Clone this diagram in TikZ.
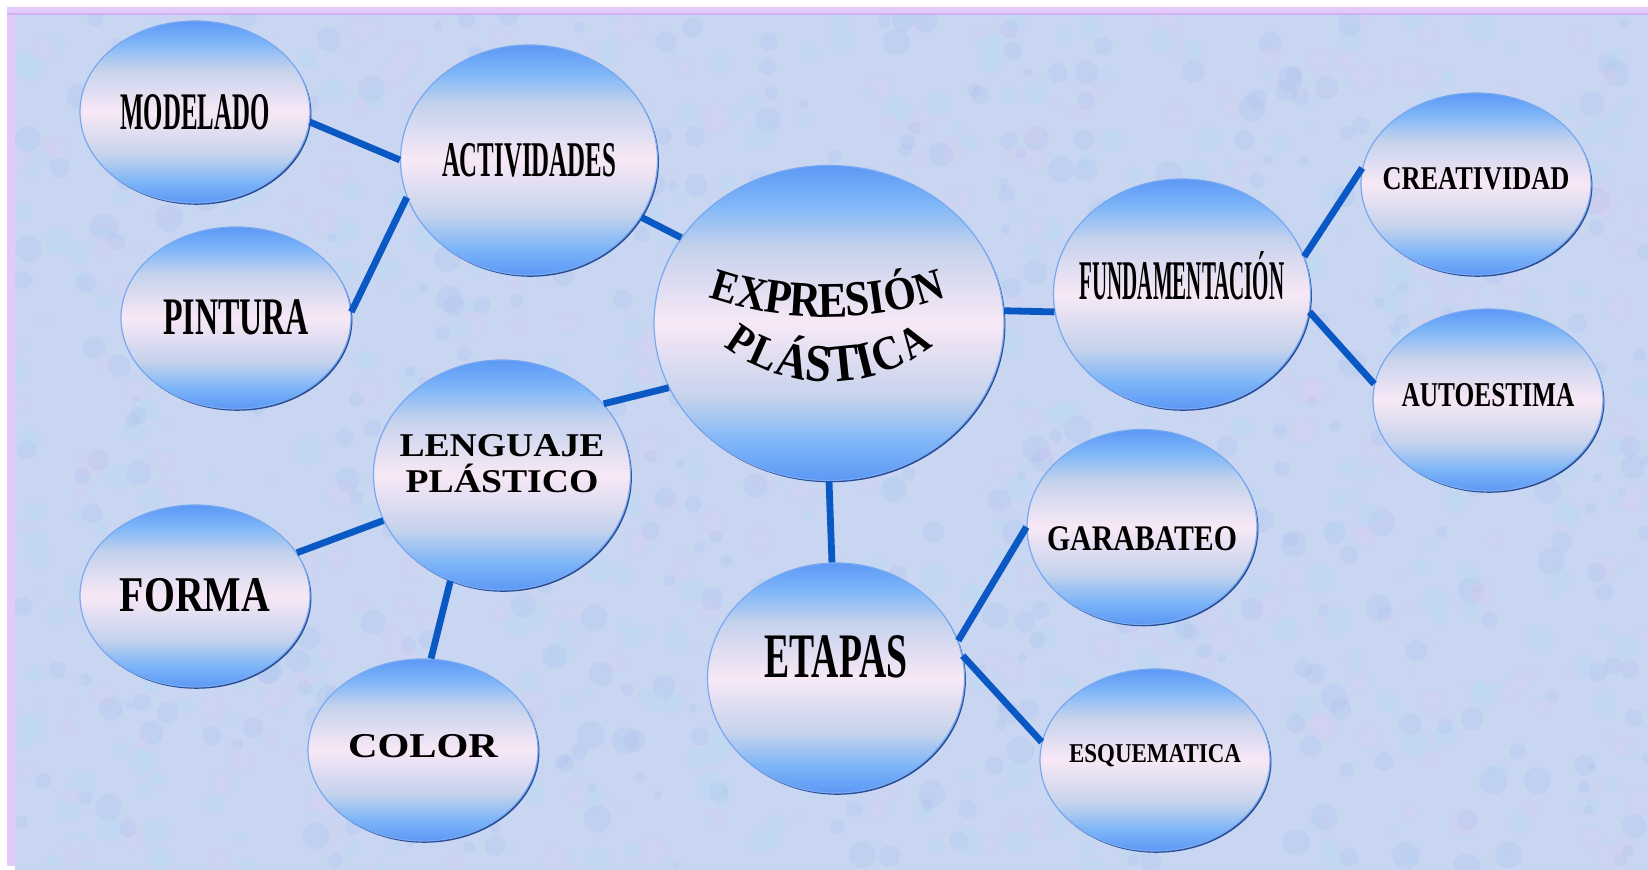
\documentclass[tikz,border=0pt]{standalone}
\usepackage{fontspec}
\setmainfont{Liberation Serif}
\usepackage{graphicx}
\usetikzlibrary{shapes.geometric,shadows}

\definecolor{bubblue}{RGB}{92,152,246}
\definecolor{bubsky}{RGB}{126,182,248}
\definecolor{bubgrey}{RGB}{196,210,236}
\definecolor{bubpink}{RGB}{248,232,246}
\definecolor{bubedge}{RGB}{120,168,240}
\definecolor{bubshadow}{RGB}{40,76,148}
\definecolor{linkblue}{RGB}{10,88,196}
\definecolor{paper}{RGB}{200,214,242}
\definecolor{framelav}{RGB}{228,202,248}
\definecolor{framedark}{RGB}{208,176,240}
\definecolor{blob0}{RGB}{226,206,244}
\definecolor{blob1}{RGB}{176,220,246}
\definecolor{blob2}{RGB}{168,188,236}

\pgfdeclareverticalshading{bubble}{100bp}{color(0bp)=(bubblue); color(25bp)=(bubblue);
  color(31bp)=(bubsky); color(38bp)=(bubgrey); color(50bp)=(bubpink); color(62bp)=(bubgrey);
  color(69bp)=(bubsky); color(75bp)=(bubblue); color(100bp)=(bubblue)}

% width (pt), font size (pt), text, baseline offset (pt)
\newcommand{\bubtext}[4]{\makebox[0pt]{\raisebox{#4pt}[0pt][0pt]{\resizebox{#1pt}{\height}{\fontsize{#2}{#2}\selectfont #3}}}}
% one letter of the arched title
\newcommand{\archletter}[2]{\fontsize{#1}{#1}\selectfont\scalebox{0.88}[1]{#2}}

\begin{document}
\begin{tikzpicture}[
    x=0.5pt, y=0.5pt,
    bubble/.style={ellipse, draw=bubedge, line width=0.6pt, shade, shading=bubble, inner sep=0pt, font=\bfseries,
        drop shadow={shadow xshift=0.7pt, shadow yshift=-0.9pt, fill=bubshadow, opacity=1}},
    small/.style={minimum width=115pt, minimum height=91pt},
    big/.style={minimum width=128.5pt, minimum height=115pt},
    arch/.style={anchor=base, inner sep=0pt, font=\bfseries},
    link/.style={draw=linkblue, line width=3.4pt}
]
    \useasboundingbox (0,0) rectangle (1648,-870);

    % background
    \fill[white] (0,0) rectangle (1648,-870);
    \fill[framelav] (7,-7) rectangle (1648,-866);
    \draw[framedark, line width=1pt] (7,-14) -- (1648,-14);
    \fill[paper] (15,-15) rectangle (1648,-870);
    \begin{scope}
        \clip (15,-15) rectangle (1648,-870);
        \pgfmathsetseed{42}
        \foreach \k in {1,...,1400} {
            \pgfmathsetmacro{\bx}{15+1633*rnd}
            \pgfmathsetmacro{\by}{-15-855*rnd}
            \pgfmathsetmacro{\br}{4+10*rnd}
            \pgfmathtruncatemacro{\bc}{mod(\k,3)}
            \fill[blob\bc, opacity=0.22] (\bx,\by) circle (\br);
        }
    \end{scope}

    % bubbles
    \node[bubble, small] (modelado) at (195,-112) {\bubtext{74.5}{26.4}{MODELADO}{-9}};
    \node[bubble, big] (actividades) at (529,-160) {\bubtext{87}{25}{ACTIVIDADES}{-8.5}};
    \node[bubble, small] (pintura) at (236,-318) {\bubtext{73}{26.4}{PINTURA}{-8.5}};
    \node[bubble, minimum width=175pt, minimum height=157.5pt] (expresion) at (829,-323) {};
    \node[bubble, big] (fundamentacion) at (1182,-294) {\bubtext{102.5}{28}{FUNDAMENTACIÓN}{-3}};
    \node[bubble, small] (creatividad) at (1476,-184) {\bubtext{93.5}{16.6}{CREATIVIDAD}{-3}};
    \node[bubble, small] (autoestima) at (1488,-400) {\bubtext{86.5}{17.4}{AUTOESTIMA}{-3.5}};
    \node[bubble, big] (lenguaje) at (502,-475) {\bubtext{102.5}{16.6}{LENGUAJE}{9}\bubtext{96.5}{16.6}{PLÁSTICO}{-9}};
    \node[bubble, small] (forma) at (195,-596) {\bubtext{75}{25}{FORMA}{-8}};
    \node[bubble, small] (color) at (423,-750) {\bubtext{75}{17.4}{COLOR}{-3.5}};
    \node[bubble, big] (etapas) at (836,-678) {\bubtext{71.5}{31.7}{ETAPAS}{0}};
    \node[bubble, small, minimum height=97.5pt] (garabateo) at (1142,-527) {\bubtext{95}{18}{GARABATEO}{-12}};
    \node[bubble, small] (esquematica) at (1155,-760) {\bubtext{86}{13.6}{ESQUEMATICA}{-1}};

    % arched title
    \foreach \ch/\a/\s [count=\i] in {E/-16.8/22.5, X/-12.25/23.5, P/-7.9/24.5, R/-3.5/25, E/1.0/25,
                                      S/5.0/25, I/8.1/24.5, Ó/11.9/23.5, N/16.8/22.5}
        \node[arch, rotate=\a] (expr\i) at ([shift={(\a-90:368)}]827,51) {\archletter{\s}{\ch}};
    \foreach \ch/\a/\s [count=\i] in {P/-33.8/22, L/-24/23, Á/-13.25/25, S/-3.45/26.5, T/5.95/26.5,
                                      I/14.1/26, C/22.7/24, A/33.8/22}
        \node[arch, rotate=\a] (plas\i) at ([shift={(\a-90:170)}]828,-212) {\archletter{\s}{\ch}};

    % links
    \draw[link] (modelado.-5) -- (actividades.180);
    \draw[link] (pintura.3) -- (actividades.197);
    \draw[link] (actividades.-27) -- (expresion.150);
    \draw[link] (lenguaje.35) -- (expresion.202);
    \draw[link] (forma.23) -- (lenguaje.201);
    \draw[link] (color.85) -- (lenguaje.244);
    \draw[link] (expresion.4) -- (fundamentacion.188);
    \draw[link] (expresion.270) -- (etapas.92);
    \draw[link] (fundamentacion.17) -- (creatividad.172);
    \draw[link] (fundamentacion.-8) -- (autoestima.172);
    \draw[link] (etapas.17) -- (garabateo.180);
    \draw[link] (etapas.10) -- (esquematica.171);
\end{tikzpicture}
\end{document}
